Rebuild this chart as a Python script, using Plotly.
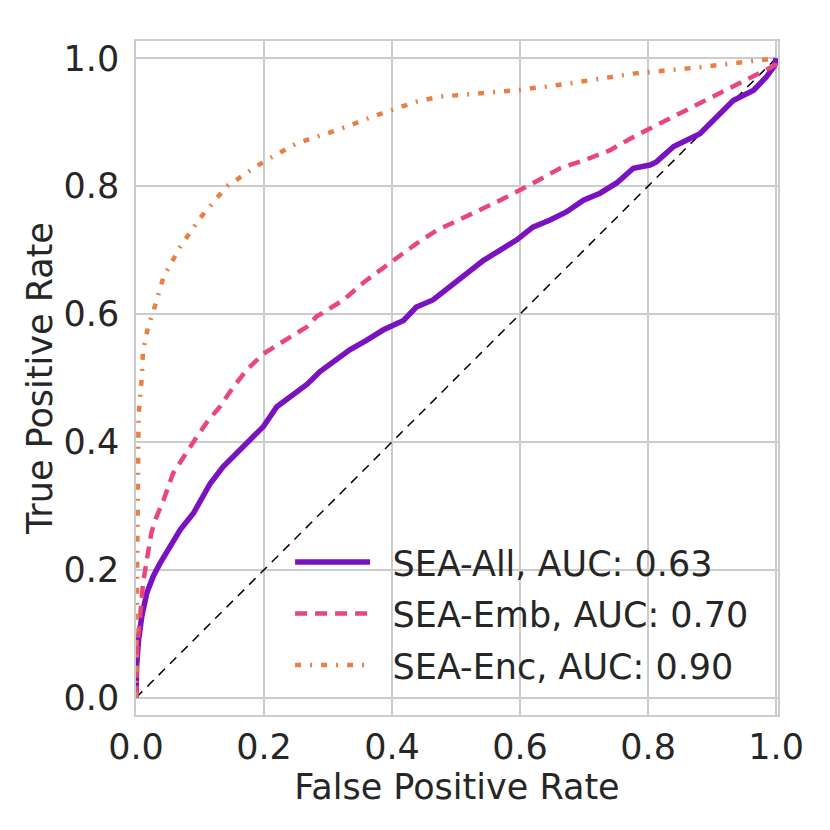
import plotly.graph_objects as go

# ROC points
all_fpr = [0, 0.001, 0.004, 0.009, 0.017, 0.027, 0.0375, 0.053, 0.069, 0.09, 0.105, 0.116,
           0.136, 0.157, 0.178, 0.199, 0.22, 0.24, 0.267, 0.2875, 0.314, 0.334, 0.36, 0.386,
           0.418, 0.438, 0.464, 0.49, 0.516, 0.543, 0.569, 0.595, 0.62, 0.647, 0.673, 0.699,
           0.725, 0.751, 0.777, 0.803, 0.813, 0.84, 0.881, 0.907, 0.933, 0.965, 0.985, 0.998, 1.0]
all_tpr = [0, 0.05, 0.09, 0.127, 0.164, 0.19, 0.21, 0.236, 0.2625, 0.289, 0.315, 0.335,
           0.361, 0.382, 0.403, 0.424, 0.455, 0.47, 0.49, 0.51, 0.528, 0.544, 0.559, 0.575,
           0.59, 0.611, 0.622, 0.643, 0.664, 0.684, 0.70, 0.716, 0.736, 0.747, 0.76, 0.778,
           0.789, 0.805, 0.828, 0.833, 0.838, 0.862, 0.882, 0.908, 0.934, 0.95, 0.971, 0.989, 1.0]

emb_fpr = [0, 0.002, 0.006, 0.009, 0.011, 0.017, 0.024, 0.032, 0.043, 0.058, 0.077, 0.095,
           0.113, 0.131, 0.152, 0.173, 0.199, 0.209, 0.235, 0.267, 0.282, 0.324, 0.36, 0.402,
           0.438, 0.47, 0.516, 0.569, 0.61, 0.6625, 0.699, 0.74, 0.777, 0.829, 0.881, 0.933,
           0.985, 0.998, 1.0]
emb_tpr = [0, 0.08, 0.122, 0.153, 0.179, 0.216, 0.258, 0.283, 0.309, 0.351, 0.382, 0.408,
           0.434, 0.455, 0.486, 0.5125, 0.538, 0.544, 0.559, 0.58, 0.596, 0.622, 0.653, 0.684,
           0.71, 0.731, 0.752, 0.778, 0.799, 0.828, 0.84, 0.856, 0.877, 0.903, 0.929, 0.955,
           0.981, 0.989, 1.0]

enc_fpr = [0, 0.001, 0.002, 0.004, 0.006, 0.009, 0.011, 0.019, 0.03, 0.043, 0.069, 0.1,
           0.142, 0.199, 0.251, 0.314, 0.376, 0.438, 0.475, 0.595, 0.673, 0.777, 0.881, 0.97, 1.0]
enc_tpr = [0, 0.1, 0.3, 0.44, 0.466, 0.50, 0.544, 0.58, 0.614, 0.658, 0.705, 0.75,
           0.80, 0.838, 0.867, 0.8875, 0.911, 0.932, 0.94, 0.95, 0.96, 0.976, 0.986, 0.996, 1.0]

diag_x = [0, 1]
diag_y = [0, 1]

names = ["SEA-All, AUC: 0.63", "SEA-Emb, AUC: 0.70", "SEA-Enc, AUC: 0.90"]
tick_vals = [0, 0.2, 0.4, 0.6, 0.8, 1.0]
tick_text = ["0.0", "0.2", "0.4", "0.6", "0.8", "1.0"]

txt = "#262626"
grid = "#cccccc"
fs = 35
pad = "\u2002"  # en space between legend line and text

fig = go.Figure()
fig.add_trace(go.Scatter(x=diag_x, y=diag_y, mode="lines", showlegend=False,
                         line=dict(color="black", width=1.5, dash="9px,7px")))
fig.add_trace(go.Scatter(x=all_fpr, y=all_tpr, mode="lines", name=pad + names[0], legendgroup="a",
                         line=dict(color="#7b12bf", width=5.5)))
fig.add_trace(go.Scatter(x=emb_fpr, y=emb_tpr, mode="lines", name=pad + names[1], legendgroup="b",
                         line=dict(color="#e9467b", width=4.5, dash="12px,8px")))
fig.add_trace(go.Scatter(x=enc_fpr, y=enc_tpr, mode="lines", name=pad + names[2], legendgroup="c",
                         line=dict(color="#e97f47", width=4.5, dash="6px,9px,2px,9px")))

axis_common = dict(
    showgrid=True, gridcolor=grid, gridwidth=1.5,
    showline=True, linecolor=grid, linewidth=1.5, mirror=True,
    zeroline=False, ticks="", tickvals=tick_vals, ticktext=tick_text,
    tickfont=dict(size=fs, color=txt),
)

fig.update_xaxes(range=[0, 1.003], ticklabelstandoff=0,
                 title=dict(text="False Positive Rate", font=dict(size=fs, color=txt), standoff=6),
                 **axis_common)
fig.update_yaxes(range=[-0.027, 1.027], ticklabelstandoff=8,
                 title=dict(text="True Positive Rate", font=dict(size=fs, color=txt), standoff=0),
                 **axis_common)

# page body adds ~8px offset, so the figure is a bit smaller than the window
fig.update_layout(
    width=814, height=814,
    margin=dict(l=128, r=44, t=33, b=107, autoexpand=False),
    paper_bgcolor="white", plot_bgcolor="white",
    font=dict(family="DejaVu Sans", color=txt),
    legend=dict(x=0.24, y=0.03, xanchor="left", yanchor="bottom",
                bgcolor="rgba(0,0,0,0)", font=dict(size=fs, color=txt),
                tracegroupgap=3, itemwidth=75),
)

fig.write_html("out.html")
